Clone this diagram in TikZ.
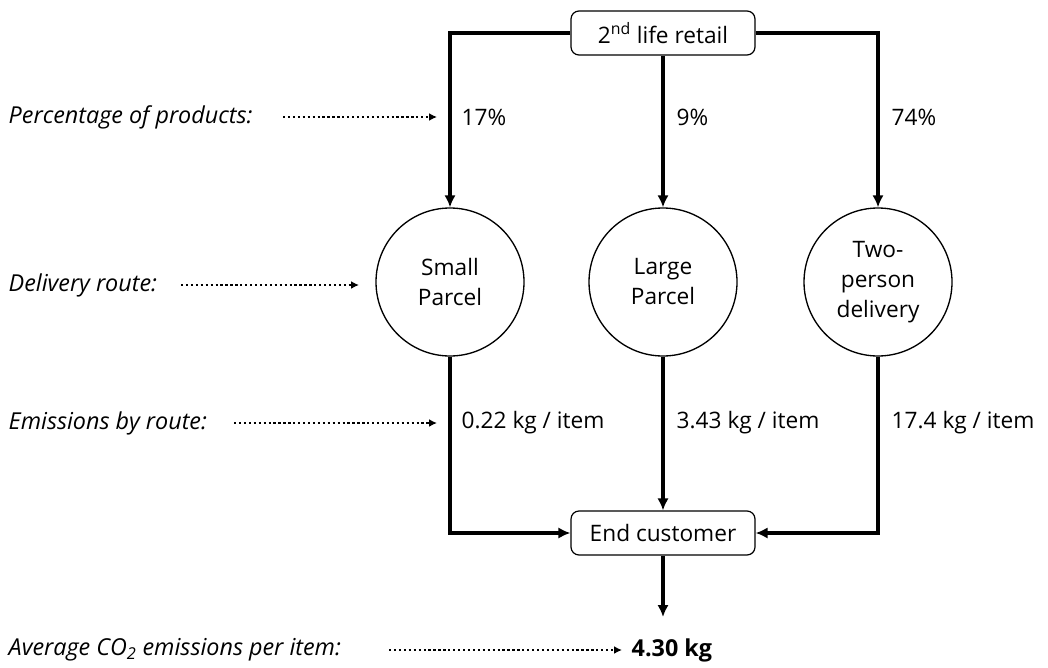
\documentclass[tikz,border=0pt]{standalone}
\usepackage{fontspec}
\setmainfont{Open Sans}
\usetikzlibrary{arrows.meta, positioning, calc}

\begin{document}
\begin{tikzpicture}[
  x=0.75pt, y=-0.75pt,
  font=\fontsize{17}{22.5}\selectfont,
  box/.style={draw, rectangle, rounded corners=6pt, minimum width=138pt, minimum height=33pt, align=center, line width=0.9pt},
  route/.style={draw, circle, minimum size=111pt, inner sep=0pt, align=center, line width=1pt},
  flow/.style={line width=2.4pt},
  hint/.style={line width=1.8pt, dash pattern=on 1.7pt off 2pt, -{Latex[length=6pt, width=6pt]}},
  note/.style={font=\fontsize{17.5}{21}\selectfont\itshape, anchor=west},
  label/.style={anchor=west},
  >={Latex[length=9pt, width=8.5pt]}
]
\useasboundingbox (0,0) rectangle (1048,667);

\node[box] (retail) at (663,33) {2\textsuperscript{nd} life retail};
\node[route] (small) at (450,282) {Small\\Parcel};
\node[route] (large) at (663,282) {Large\\Parcel};
\node[route] (twoperson) at (878,282) {Two-\\person\\delivery};
\node[box] (customer) at (663,533) {End customer};
\coordinate (result) at (663,617);
\node[label, font=\fontsize{17.5}{21}\selectfont\bfseries] (average) at (627,650) {4.30 kg};

\draw[flow, ->] (retail.west) -| (small);
\draw[flow, ->] (retail) -- (large);
\draw[flow, ->] (retail.east) -| (twoperson);
\draw[flow, ->] (small) |- (customer.west);
\draw[flow, ->] (large) -- (customer);
\draw[flow, ->] (twoperson) |- (customer.east);
\draw[flow, ->] (customer) -- (result);

% shares and emissions per route
\node[label] (sharesmall) at (457,117) {17\%};
\node[label] (sharelarge) at (672,117) {9\%};
\node[label] (sharetwo) at (887,117) {74\%};
\node[label] (emitsmall) at (457,423) {0.22 kg / item};
\node[label] (emitlarge) at (672,423) {3.43 kg / item};
\node[label] (emittwo) at (887,423) {17.4 kg / item};

% row captions
\node[note] (sharenote) at (4,117) {Percentage of products:};
\node[note] (routenote) at (4,285) {Delivery route:};
\node[note] (emitnote) at (4,423) {Emissions by route:};
\node[note] (avgnote) at (4,650) {Average CO\textsubscript{2} emissions per item:};

\coordinate (sharetail) at (283,117);
\coordinate (sharetip) at (437,117);
\coordinate (routetail) at (181,285);
\coordinate (routetip) at (359,285);
\coordinate (emittail) at (234,423);
\coordinate (emittip) at (437,423);
\coordinate (avgtail) at (389,650);
\coordinate (avgtip) at (622,650);

\draw[hint] (sharetail) -- (sharetip);
\draw[hint] (routetail) -- (routetip);
\draw[hint] (emittail) -- (emittip);
\draw[hint] (avgtail) -- (avgtip);
\end{tikzpicture}
\end{document}
